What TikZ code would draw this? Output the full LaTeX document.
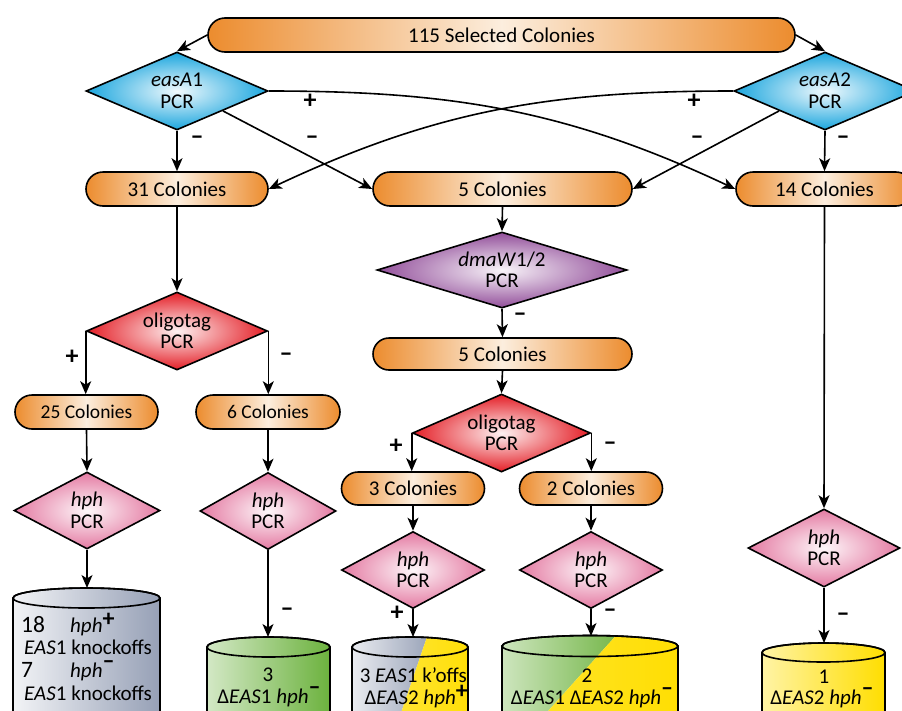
\documentclass[tikz,border=0pt]{standalone}
\usepackage{fontspec}
\setmainfont{Carlito}
\usetikzlibrary{shapes.geometric,shapes.misc,arrows.meta}
\definecolor{orng}{RGB}{236,140,46}
\definecolor{orngL}{RGB}{252,238,222}
\definecolor{cyanD}{RGB}{27,166,222}
\definecolor{redD}{RGB}{228,30,38}
\definecolor{purpD}{RGB}{146,78,154}
\definecolor{pinkD}{RGB}{228,122,162}
\definecolor{grayC}{RGB}{150,160,182}
\definecolor{greenC}{RGB}{108,178,62}
\definecolor{yelC}{RGB}{255,222,0}
\newcommand\hplus{\raisebox{.26em}{\fontsize{24}{24}\selectfont\textbf{+}}}
\newcommand\hminus{\raisebox{.40em}{\fontsize{24}{24}\selectfont\textbf{–}}}
\newcommand\mn{\textbf{–}}
\newcommand\bignum[1]{{\fontsize{23.5}{24}\selectfont #1}}
\newcommand\cylbody[4]{({#1-#3},#2) -- ({#1-#3},725) -- ({#1+#3},725) -- ({#1+#3},#2) arc[start angle=0,end angle=180,x radius=#3pt,y radius=#4pt] -- cycle}
\newcommand\cyltop[4]{(#1,#2) ellipse[x radius=#3pt,y radius=#4pt]}
\tikzset{
 base/.style={draw=black, line width=1.6pt, inner sep=0pt, font=\fontsize{21}{21.5}\selectfont, align=center},
 pill/.style={base, rounded rectangle, minimum height=34pt,
   path picture={
     \fill[orng] (path picture bounding box.south west) rectangle (path picture bounding box.north east);
     \shade[left color=orng, right color=orngL] (path picture bounding box.south west) ++(0.18,0) rectangle ($(path picture bounding box.north)+(0.2,0)$);
     \shade[left color=orngL, right color=orng] (path picture bounding box.north) ++(-0.2,0) rectangle ($(path picture bounding box.south east)+(-0.18,0)$);
   }},
 smallpill/.style={pill, font=\fontsize{19.5}{20}\selectfont},
 dia/.style={base, diamond, aspect=2.3, inner color=#1!6, outer color=#1},
 arr/.style={line width=1.6pt, -{Stealth[length=13pt,width=11pt,inset=3.5pt]}},
 lbl/.style={font=\fontsize{26}{26}\selectfont, inner sep=0pt},
 txt/.style={font=\fontsize{21}{21.5}\selectfont, inner sep=0pt},
 outline/.style={draw=black, line width=1.6pt},
}
\usetikzlibrary{calc}
\begin{document}
\begin{tikzpicture}[x=1pt,y=-1pt]
\useasboundingbox (0,0) rectangle (902,710);
\clip (0,0) rectangle (902,710);
\fill[white] (0,0) rectangle (902,710);

% ---------- nodes ----------
\node[pill, minimum width=587pt] (top) at (501.5,35) {115 Selected Colonies};
\node[dia=cyanD, minimum width=182pt, minimum height=78pt] (ea1) at (177,91) {\textit{easA}1\\PCR};
\node[dia=cyanD, minimum width=182pt, minimum height=78pt] (ea2) at (825,91) {\textit{easA}2\\PCR};
\node[pill, minimum width=182pt] (c31) at (177,189) {31 Colonies};
\node[pill, minimum width=259pt] (c5a) at (502.5,189) {5 Colonies};
\node[pill, minimum width=177pt] (c14) at (824.5,189) {14 Colonies};

\node[dia=redD, minimum width=181pt, minimum height=78pt] (ol1) at (177,331) {oligotag\\PCR};
\node[smallpill, minimum width=143pt] (c25) at (86.5,412) {25 Colonies};
\node[smallpill, minimum width=144pt] (c6) at (268,412) {6 Colonies};
\node[dia=pinkD, minimum width=146pt, minimum height=77pt] (h1) at (87,510.5) {\textit{hph}\\PCR};
\node[dia=pinkD, minimum width=136pt, minimum height=77pt] (h2) at (268,511) {\textit{hph}\\PCR};

\node[dia=purpD, minimum width=250pt, minimum height=76pt] (dm) at (502,270) {\textit{dmaW}1/2\\PCR};
\node[pill, minimum width=259pt, minimum height=32pt] (c5b) at (502.5,354) {5 Colonies};
\node[dia=redD, minimum width=178pt, minimum height=78pt] (ol2) at (501.5,433) {oligotag\\PCR};
\node[pill, minimum width=143pt, minimum height=33pt] (c3) at (413,488.5) {3 Colonies};
\node[pill, minimum width=143pt, minimum height=33pt] (c2) at (591,488.5) {2 Colonies};
\node[dia=pinkD, minimum width=143pt, minimum height=77pt] (h3) at (413,570) {\textit{hph}\\PCR};
\node[dia=pinkD, minimum width=143pt, minimum height=77pt] (h4) at (591,570) {\textit{hph}\\PCR};
\node[dia=pinkD, minimum width=152pt, minimum height=78pt] (h5) at (824,548) {\textit{hph}\\PCR};

% ---------- cylinders ----------
% gray
\shade[left color=grayC!12, right color=grayC] \cylbody{86.5}{598}{73.5}{10};
\draw[outline] \cylbody{86.5}{598}{73.5}{10};
\draw[outline] \cyltop{86.5}{598}{73.5}{10};
\coordinate (k1) at (87,588);
% green
\shade[left color=greenC!30, right color=greenC] \cylbody{268.5}{647}{61.5}{10};
\draw[outline] \cylbody{268.5}{647}{61.5}{10};
\draw[outline] \cyltop{268.5}{647}{61.5}{10};
\coordinate (k2) at (268,637);
% gray / yellow
\begin{scope}
\clip \cylbody{410}{647}{58}{10};
\shade[left color=grayC!8, right color=grayC] (340,620) -- (432.8,620) -- (398.6,720) -- (340,720) -- cycle;
\shade[left color=yelC!80, right color=yelC] (398.6,720) -- (432.8,620) -- (480,620) -- (480,720) -- cycle;
\end{scope}
\draw[outline] \cylbody{410}{647}{58}{10};
\draw[outline] \cyltop{410}{647}{58}{10};
\coordinate (k3) at (412,637);
% green / yellow
\begin{scope}
\clip \cylbody{590}{646}{88}{10.5};
\shade[left color=greenC!30, right color=greenC] (495,620) -- (630,620) -- (540,720) -- (495,720) -- cycle;
\shade[left color=yelC!85, right color=yelC] (540,720) -- (630,620) -- (690,620) -- (690,720) -- cycle;
\end{scope}
\draw[outline] \cylbody{590}{646}{88}{10.5};
\draw[outline] \cyltop{590}{646}{88}{10.5};
\coordinate (k4) at (591,636);
% yellow
\shade[left color=yelC!35, right color=yelC] \cylbody{823.5}{652.5}{61.5}{9.5};
\draw[outline] \cylbody{823.5}{652.5}{61.5}{9.5};
\draw[outline] \cyltop{823.5}{652.5}{61.5}{9.5};
\coordinate (k5) at (824,643);

% ---------- cylinder texts ----------
\node[txt, anchor=base west] (g1) at (21,632) {\makebox[49pt][l]{\bignum{18}}\textit{hph}\hplus};
\node[txt, anchor=base west] (g2) at (24,654) {\textit{EAS}1 knockoffs};
\node[txt, anchor=base west] (g3) at (21,677) {\makebox[49pt][l]{\bignum{7}}\textit{hph}\hminus};
\node[txt, anchor=base west] (g4) at (24,700) {\textit{EAS}1 knockoffs};
\node[txt, anchor=base] (t2a) at (268,681) {3};
\node[txt, anchor=base] (t2b) at (269,703) {Δ\textit{EAS}1 \textit{hph}\hminus};
\node[txt, anchor=base east] (t3a) at (467,682) {3 \textit{EAS}1 k’offs};
\node[txt, anchor=base east] (t3b) at (468,704) {Δ\textit{EAS}2 \textit{hph}\hplus};
\node[txt, anchor=base] (t4a) at (587,682) {2};
\node[txt, anchor=base] (t4b) at (592,704) {Δ\textit{EAS}1 Δ\textit{EAS}2 \textit{hph}\hminus};
\node[txt, anchor=base] (t5a) at (824,683) {1};
\node[txt, anchor=base] (t5b) at (822,704) {Δ\textit{EAS}2 \textit{hph}\hminus};

% ---------- connectors ----------
\draw[arr] (top.west) -- (ea1.north);
\draw[arr] (top.east) -- (ea2.north);
\draw[arr] (ea1.south) -- (c31.north);
\draw[arr] (ea1.south east) -- (c5a.west);
\draw[arr] (ea1.east) .. controls +(180,0) and +(-170,-80) .. (c14.west);
\draw[arr] (ea2.south) -- (c14.north);
\draw[arr] (ea2.south west) -- (c5a.east);
\draw[arr] (ea2.west) .. controls +(-180,0) and +(170,-80) .. (c31.east);

\draw[arr] (c31.south) -- (ol1.north);
\draw[arr] (ol1.west) -- (ol1.west |- c25.north);
\draw[arr] (ol1.east) -- (ol1.east |- c6.north);
\draw[arr] (c25.south) -- (h1.north);
\draw[arr] (c6.south) -- (h2.north);
\draw[arr] (h1.south) -- (k1);
\draw[arr] (h2.south) -- (k2);

\draw[arr] (c5a.south) -- (dm.north);
\draw[arr] (dm.south) -- (c5b.north);
\draw[arr] (c5b.south) -- (ol2.north);
\draw[arr] (ol2.west) -- (ol2.west |- c3.north);
\draw[arr] (ol2.east) -- (ol2.east |- c2.north);
\draw[arr] (c3.south) -- (h3.north);
\draw[arr] (c2.south) -- (h4.north);
\draw[arr] (h3.south) -- (h3.south |- k3);
\draw[arr] (h4.south) -- (h4.south |- k4);

\draw[arr] (c14.south) -- (h5.north);
\draw[arr] (h5.south) -- (k5);

% ---------- labels ----------
\node[lbl] (l1) at (197,140) {\mn};
\node[lbl] (l2) at (312,140) {\mn};
\node[lbl] (l3) at (310,101) {\textbf{+}};
\node[lbl] (l4) at (694,101) {\textbf{+}};
\node[lbl] (l5) at (697,140) {\mn};
\node[lbl] (l6) at (843,140) {\mn};
\node[lbl] (l7) at (72,357) {\textbf{+}};
\node[lbl] (l8) at (286,357) {\mn};
\node[lbl] (l9) at (287,612) {\mn};
\node[lbl] (l10) at (520,317) {\mn};
\node[lbl] (l11) at (396,446) {\textbf{+}};
\node[lbl] (l12) at (610,446) {\mn};
\node[lbl] (l13) at (397,613) {\textbf{+}};
\node[lbl] (l14) at (610,613) {\mn};
\node[lbl] (l15) at (843,617) {\mn};
\end{tikzpicture}
\end{document}
